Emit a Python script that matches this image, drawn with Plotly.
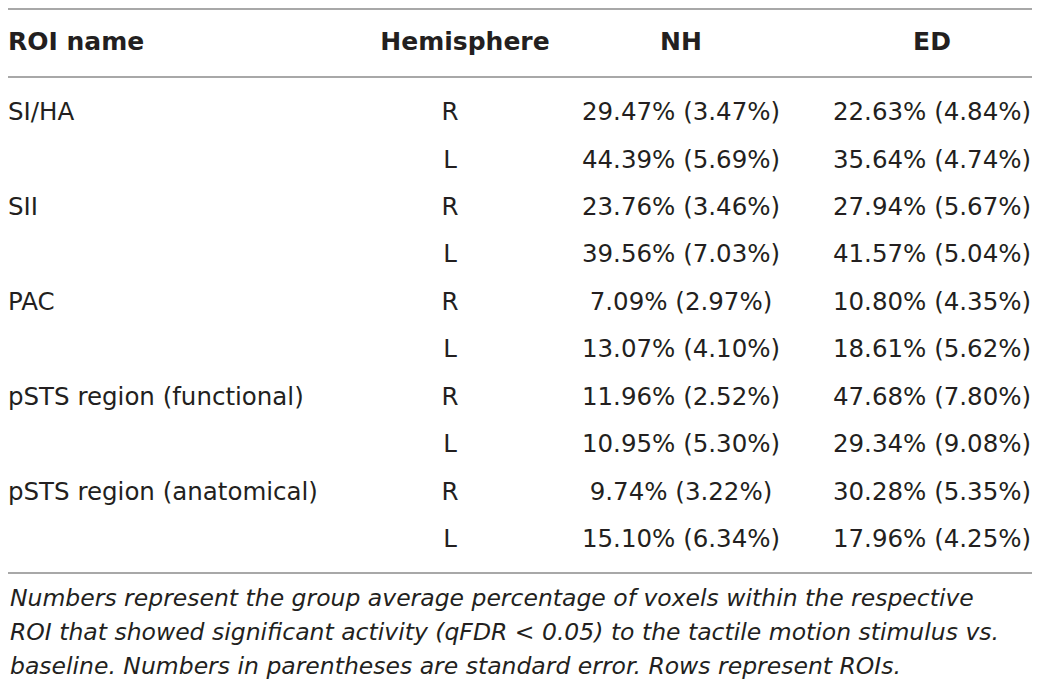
import plotly.graph_objects as go

# ---- data ----
headers = ["ROI name", "Hemisphere", "NH", "ED"]
roi_names = ["SI/HA", "", "SII", "", "PAC", "",
             "pSTS region (functional)", "", "pSTS region (anatomical)", ""]
hemisphere = ["R", "L", "R", "L", "R", "L", "R", "L", "R", "L"]
nh_mean = [29.47, 44.39, 23.76, 39.56, 7.09, 13.07, 11.96, 10.95, 9.74, 15.10]
nh_se = [3.47, 5.69, 3.46, 7.03, 2.97, 4.10, 2.52, 5.30, 3.22, 6.34]
ed_mean = [22.63, 35.64, 27.94, 41.57, 10.80, 18.61, 47.68, 29.34, 30.28, 17.96]
ed_se = [4.84, 4.74, 5.67, 5.04, 4.35, 5.62, 7.80, 9.08, 5.35, 4.25]
footnote_lines = [
    "Numbers represent the group average percentage of voxels within the respective",
    "ROI that showed significant activity (qFDR &lt; 0.05) to the tactile motion stimulus vs.",
    "baseline. Numbers in parentheses are standard error. Rows represent ROIs.",
]

# ---- layout constants (figure pixels; the page adds an 8px body margin) ----
W, H = 1024, 681
FONT = "DejaVu Sans"
TXT = "#231f20"
RULE = "#a8a8a8"
FS = 24.5
FS_HEAD = 25
FS_NOTE = 23.5

ROW0_PX = 106.0     # centre of first body row
ROW_PITCH = 47.45   # px per row
HEADER_ROW = -1.477  # header row position in row units
RULES_PX = [1, 69, 565]
NOTE_PX = [590, 624, 658]

# column anchor positions on the x axis (pixels)
COL_X = {"roi": 0, "hemi": 442, "hemi_head": 457, "nh": 673, "ed": 924}


def fmt(m, s):
    return f"{m:.2f}% ({s:.2f}%)"


nh_text = [fmt(m, s) for m, s in zip(nh_mean, nh_se)]
ed_text = [fmt(m, s) for m, s in zip(ed_mean, ed_se)]
rows = list(range(len(hemisphere)))

fig = go.Figure()


def add_col(x, y, text, pos, size, bold=False):
    t = [f"<b>{s}</b>" if bold else s for s in text]
    fig.add_trace(go.Scatter(
        x=[x] * len(y), y=y, text=t, mode="text", textposition=pos,
        textfont=dict(family=FONT, size=size, color=TXT),
        hoverinfo="skip", showlegend=False, cliponaxis=False,
    ))


# header row
add_col(COL_X["roi"], [HEADER_ROW], [headers[0]], "middle right", FS_HEAD, True)
add_col(COL_X["hemi_head"], [HEADER_ROW], [headers[1]], "middle center", FS_HEAD, True)
add_col(COL_X["nh"], [HEADER_ROW], [headers[2]], "middle center", FS_HEAD, True)
add_col(COL_X["ed"], [HEADER_ROW], [headers[3]], "middle center", FS_HEAD, True)

# body
add_col(COL_X["roi"], rows, roi_names, "middle right", FS)
add_col(COL_X["hemi"], rows, hemisphere, "middle center", FS)
add_col(COL_X["nh"], rows, nh_text, "middle center", FS)
add_col(COL_X["ed"], rows, ed_text, "middle center", FS)

for yy in RULES_PX:
    fig.add_shape(type="line", xref="paper", yref="paper",
                  x0=0, x1=1, y0=1 - yy / H, y1=1 - yy / H,
                  line=dict(color=RULE, width=2))

for line, yy in zip(footnote_lines, NOTE_PX):
    fig.add_annotation(
        xref="paper", yref="paper", x=0, y=1 - yy / H,
        xanchor="left", yanchor="middle", showarrow=False,
        text=f"<i>{line}</i>",
        font=dict(family=FONT, size=FS_NOTE, color=TXT),
    )

y_top = -ROW0_PX / ROW_PITCH
y_bot = (H - ROW0_PX) / ROW_PITCH

fig.update_layout(
    width=W, height=H,
    margin=dict(l=0, r=0, t=0, b=0),
    paper_bgcolor="white", plot_bgcolor="white",
    xaxis=dict(range=[0, W], visible=False, fixedrange=True),
    yaxis=dict(range=[y_bot, y_top], visible=False, fixedrange=True),
)

fig.write_html("out.html", config={"displayModeBar": False})
